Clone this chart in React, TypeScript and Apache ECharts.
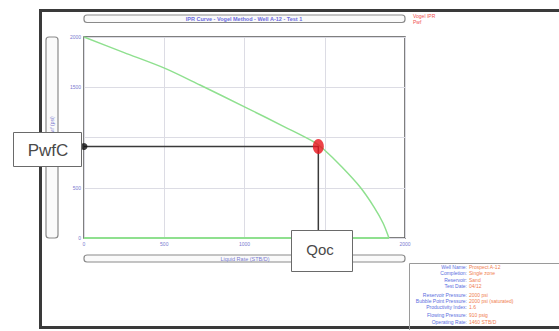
import { useEffect, useRef } from "react";
import * as echarts from "echarts";

// Axis ranges and ticks
const rateTicks = [0, 500, 1000, 1500, 2000];
const pressureTicks = [0, 500, 1000, 1500, 2000];

// Vogel IPR curve (rate in STB/D, flowing pressure in psi)
const iprRate = [0, 250, 505, 723, 1003, 1252, 1433, 1495, 1607, 1720, 1807, 1863, 1900];
const iprPwf = [2000, 1845, 1688, 1522, 1303, 1104, 955, 880, 706, 507, 308, 149, 0];

// Zero-pressure baseline of the curve
const baseRate = [0, 1900];
const basePwf = [0, 0];

// Operating point
const qoc = 1460;
const pwfc = 910;

// Tick labels that sit under the callout boxes are not printed
const hiddenRateLabels = [1500];
const hiddenPressureLabels = [1000];

// Well data panel
const infoLabels = [
  "Well Name:",
  "Completion:",
  "Reservoir:",
  "Test Date:",
  "Reservoir Pressure:",
  "Bubble Point Pressure:",
  "Productivity Index:",
  "Flowing Pressure:",
  "Operating Rate:",
];
const infoValues = [
  "Prospect A-12",
  "Single zone",
  "Sand",
  "04/12",
  "2000 psi",
  "2000 psi (saturated)",
  "1.6",
  "910 psig",
  "1460 STB/D",
];
const infoRowsY = [267, 273, 280, 286, 295, 301, 307, 315, 322];

const legendLines = ["Vogel IPR", "Pwf"];

const GRID = { left: 84, top: 37, width: 321, height: 201 };

export default function App() {
  const ref = useRef<HTMLDivElement>(null);

  useEffect(() => {
    if (!ref.current) return;
    const chart = echarts.init(ref.current, null, { renderer: "svg" });

    const labelColor = "#7a7ad0";
    const tinyFont = "Liberation Sans, Arial, sans-serif";

    const graphic: any[] = [
      // outer frame
      {
        type: "rect",
        shape: { x: 40.5, y: 10.5, width: 540, height: 317 },
        style: { fill: "none", stroke: "#3a3a3a", lineWidth: 3 },
        z: 50,
      },
      // title bar
      {
        type: "rect",
        shape: { x: 84, y: 15, width: 321, height: 7.5, r: 3 },
        style: { fill: "#fafafa", stroke: "#8a8a8a", lineWidth: 1.2 },
        z: 50,
      },
      {
        type: "text",
        x: 244,
        y: 18.8,
        style: {
          text: "IPR Curve - Vogel Method - Well A-12 - Test 1",
          fill: "#6c6ce0",
          fontSize: 5.5,
          fontFamily: tinyFont,
          fontWeight: "bold",
          align: "center",
          verticalAlign: "middle",
        },
        z: 51,
      },
      // y-axis title bar
      {
        type: "rect",
        shape: { x: 46, y: 37, width: 12, height: 201, r: 3 },
        style: { fill: "#fafafa", stroke: "#8a8a8a", lineWidth: 1.2 },
        z: 50,
      },
      {
        type: "text",
        x: 52,
        y: 126,
        rotation: Math.PI / 2,
        style: {
          text: "Pwf (psi)",
          fill: labelColor,
          fontSize: 5,
          fontFamily: tinyFont,
          align: "center",
          verticalAlign: "middle",
        },
        z: 51,
      },
      // x-axis title bar
      {
        type: "rect",
        shape: { x: 84, y: 255, width: 321, height: 7, r: 3 },
        style: { fill: "#fafafa", stroke: "#8a8a8a", lineWidth: 1.2 },
        z: 50,
      },
      {
        type: "text",
        x: 245,
        y: 258.6,
        style: {
          text: "Liquid Rate (STB/D)",
          fill: labelColor,
          fontSize: 5.5,
          fontFamily: tinyFont,
          align: "center",
          verticalAlign: "middle",
        },
        z: 51,
      },
      // legend
      ...legendLines.map((t, i) => ({
        type: "text",
        x: 413,
        y: 16 + i * 5.5,
        style: {
          text: t,
          fill: "#f05050",
          fontSize: 5,
          fontFamily: tinyFont,
          align: "left",
          verticalAlign: "middle",
        },
        z: 51,
      })),
      // PwfC callout
      {
        type: "rect",
        shape: { x: 13.5, y: 132.5, width: 68, height: 34 },
        style: { fill: "#ffffff", stroke: "#6a6a6a", lineWidth: 1 },
        z: 100,
      },
      {
        type: "text",
        x: 48,
        y: 150,
        style: {
          text: "PwfC",
          fill: "#4a4a4a",
          fontSize: 17,
          fontFamily: "Liberation Sans, Arial, sans-serif",
          align: "center",
          verticalAlign: "middle",
        },
        z: 101,
      },
      // Qoc callout
      {
        type: "rect",
        shape: { x: 291.5, y: 230.5, width: 61, height: 41 },
        style: { fill: "#ffffff", stroke: "#6a6a6a", lineWidth: 1 },
        z: 100,
      },
      {
        type: "text",
        x: 320,
        y: 249,
        style: {
          text: "Qoc",
          fill: "#4a4a4a",
          fontSize: 15,
          fontFamily: "Liberation Sans, Arial, sans-serif",
          align: "center",
          verticalAlign: "middle",
        },
        z: 101,
      },
      // well data panel
      {
        type: "polyline",
        shape: { points: [[409.5, 330], [409.5, 263.5], [560, 263.5]] },
        style: { fill: "none", stroke: "#9a9a9a", lineWidth: 1 },
        z: 50,
      },
      ...infoLabels.map((t, i) => ({
        type: "text",
        x: 467,
        y: infoRowsY[i],
        style: {
          text: t,
          fill: "#5a6ee0",
          fontSize: 5,
          fontFamily: tinyFont,
          align: "right",
          verticalAlign: "middle",
        },
        z: 51,
      })),
      ...infoValues.map((t, i) => ({
        type: "text",
        x: 469,
        y: infoRowsY[i],
        style: {
          text: t,
          fill: "#f08050",
          fontSize: 5,
          fontFamily: tinyFont,
          align: "left",
          verticalAlign: "middle",
        },
        z: 51,
      })),
    ];

    chart.setOption({
      animation: false,
      backgroundColor: "#ffffff",
      grid: {
        ...GRID,
        show: true,
        borderColor: "#555555",
        borderWidth: 1.5,
        backgroundColor: "transparent",
      },
      xAxis: {
        type: "value",
        min: rateTicks[0],
        max: rateTicks[rateTicks.length - 1],
        interval: rateTicks[1] - rateTicks[0],
        axisLine: { show: false },
        axisTick: { show: false },
        axisLabel: {
          fontSize: 5,
          color: labelColor,
          margin: 3,
          fontFamily: tinyFont,
          formatter: (v: number) =>
            hiddenRateLabels.includes(v) ? "" : String(v),
        },
        splitLine: { lineStyle: { color: "#dcdce4", width: 1 } },
      },
      yAxis: {
        type: "value",
        min: pressureTicks[0],
        max: pressureTicks[pressureTicks.length - 1],
        interval: pressureTicks[1] - pressureTicks[0],
        axisLine: { show: false },
        axisTick: { show: false },
        axisLabel: {
          fontSize: 5,
          color: labelColor,
          margin: 3,
          fontFamily: tinyFont,
          formatter: (v: number) =>
            hiddenPressureLabels.includes(v) ? "" : String(v),
        },
        splitLine: { lineStyle: { color: "#dcdce4", width: 1 } },
      },
      series: [
        {
          type: "line",
          data: iprRate.map((q, i) => [q, iprPwf[i]]),
          smooth: 0.3,
          symbol: "none",
          lineStyle: { color: "#8fe08f", width: 1.5 },
          z: 3,
        },
        {
          type: "line",
          data: baseRate.map((q, i) => [q, basePwf[i]]),
          symbol: "none",
          lineStyle: { color: "#8fe08f", width: 2 },
          z: 3,
        },
        {
          type: "line",
          data: [
            [0, pwfc],
            [qoc, pwfc],
            [qoc, 0],
          ],
          symbol: "none",
          lineStyle: { color: "#3a3a3a", width: 1.5 },
          z: 4,
        },
        {
          type: "scatter",
          data: [[0, pwfc]],
          symbol: "circle",
          symbolSize: 7,
          itemStyle: { color: "#111111" },
          clip: false,
          z: 5,
        },
        {
          type: "scatter",
          data: [[qoc, pwfc]],
          symbol: "circle",
          symbolSize: [11, 15],
          itemStyle: { color: "#e8141c" },
          clip: false,
          z: 6,
        },
      ],
      graphic,
    });

    return () => chart.dispose();
  }, []);

  return (
    <div
      ref={ref}
      style={{ position: "fixed", left: 0, top: 0, width: 559, height: 331 }}
    />
  );
}
